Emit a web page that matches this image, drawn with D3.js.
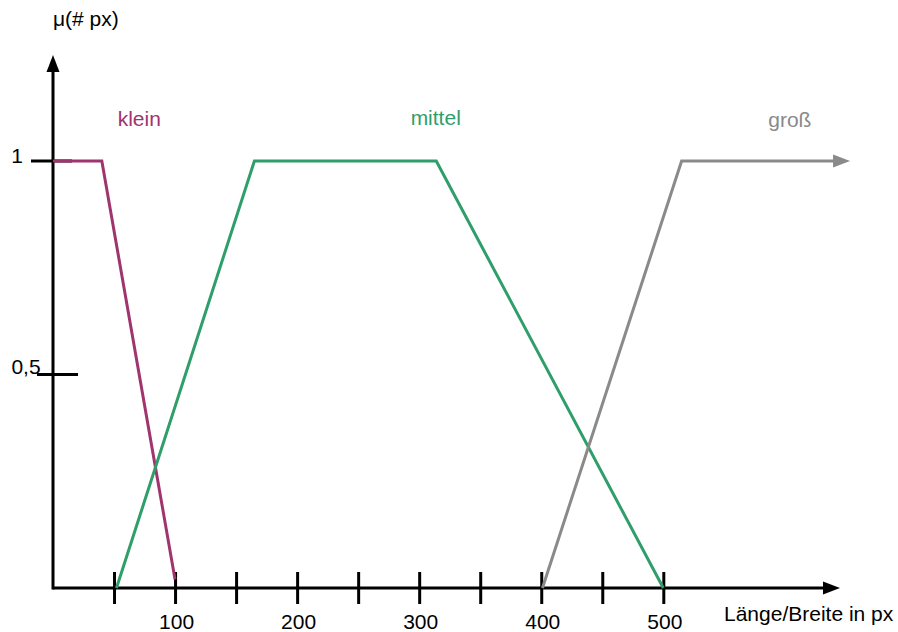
<!DOCTYPE html>
<html>
<head>
<meta charset="utf-8">
<script src="https://cdn.jsdelivr.net/npm/d3@7"></script>
<style>
  html, body { margin: 0; padding: 0; background: #fff; }
  svg { display: block; }
  text { font-family: "Liberation Sans", Arial, sans-serif; font-size: 21px; }
</style>
</head>
<body>
<svg id="chart" width="898" height="632"></svg>
<script>
// ---- data ----
const xTickValues = [50, 100, 150, 200, 250, 300, 350, 400, 450, 500];
const xTickLabels = [100, 200, 300, 400, 500];
const yTickValues = [1, 0.5];
const yTickLabels = ["1", "0,5"];

const kleinX = [0, 40, 100];
const kleinMu = [1, 1, 0.02];
const mittelX = [52, 165, 314, 500];
const mittelMu = [0, 1, 1, 0];
const grossX = [401, 515, 653];
const grossMu = [0, 1, 1];

const seriesNames = ["klein", "mittel", "groß"];
const seriesColors = ["#a0346e", "#2f9e6a", "#8a8a8a"];
const labelAnchorX = [53, 293, 586];   // label x (data units)
const labelAnchorMu = [1.082, 1.084, 1.08];

const xAxisLabel = "Länge/Breite in px";
const yAxisLabel = "μ(# px)";

// ---- scales ----
const svg = d3.select("#chart");
const x = d3.scaleLinear().domain([0, 500]).range([53, 663.3]);
const y = d3.scaleLinear().domain([0, 1]).range([588, 161]);

const black = "#000";

// axes lines
const xEnd = 840, yEnd = 55;
svg.append("line").attr("x1", x(0)).attr("y1", y(0)).attr("x2", xEnd - 10).attr("y2", y(0))
  .attr("stroke", black).attr("stroke-width", 3);
svg.append("path").attr("d", `M${xEnd},${y(0)} L${xEnd - 17},${y(0) - 6.5} L${xEnd - 17},${y(0) + 6.5} Z`)
  .attr("fill", black);
svg.append("line").attr("x1", x(0)).attr("y1", y(0) + 1.5).attr("x2", x(0)).attr("y2", yEnd + 10)
  .attr("stroke", black).attr("stroke-width", 3);
svg.append("path").attr("d", `M${x(0)},${yEnd} L${x(0) - 6.5},${yEnd + 17} L${x(0) + 6.5},${yEnd + 17} Z`)
  .attr("fill", black);

// x ticks via d3 axis
const xAxis = d3.axisBottom(x).tickValues(xTickValues).tickSizeInner(16).tickSizeOuter(0)
  .tickFormat(d => xTickLabels.includes(d) ? d : "");
const gx = svg.append("g").attr("transform", `translate(0,${y(0)})`).call(xAxis);
gx.select(".domain").remove();
gx.selectAll(".tick line").attr("stroke", black).attr("stroke-width", 3).attr("y1", -16).attr("y2", 16);
gx.selectAll(".tick text").attr("fill", black).attr("y", 0).attr("dy", null)
  .attr("transform", "translate(1,41)")
  .style("font-size", "21px").style("font-family", "Liberation Sans, Arial, sans-serif");

// y ticks
const yTickLeft = [31, 37], yTickRight = [72, 78];
yTickValues.forEach((v, i) => {
  svg.append("line").attr("x1", yTickLeft[i]).attr("x2", yTickRight[i])
    .attr("y1", y(v)).attr("y2", y(v)).attr("stroke", black).attr("stroke-width", 3);
});
svg.append("text").attr("x", 17).attr("y", y(1) + 2).attr("text-anchor", "middle").text(yTickLabels[0]);
svg.append("text").attr("x", 26).attr("y", y(0.5) - 1).attr("text-anchor", "middle").text(yTickLabels[1]);

// axis labels
svg.append("text").attr("x", 53).attr("y", 26).text(yAxisLabel);
svg.append("text").attr("x", 724).attr("y", 621).text(xAxisLabel);

// series
const line = d3.line().x(d => x(d[0])).y(d => y(d[1]));
const series = [
  d3.zip(kleinX, kleinMu),
  d3.zip(mittelX, mittelMu),
  d3.zip(grossX, grossMu)
];
series.forEach((pts, i) => {
  let drawPts = pts;
  if (i === 2) {
    const last = pts[pts.length - 1];
    drawPts = pts.slice(0, -1).concat([[last[0] - 12 / 1.2208, last[1]]]);
  }
  svg.append("path").datum(drawPts).attr("d", line)
    .attr("fill", "none").attr("stroke", seriesColors[i]).attr("stroke-width", 3)
    .attr("stroke-linejoin", "miter");
});
// arrow head on groß
{
  const last = series[2][series[2].length - 1];
  const tx = x(last[0]), ty = y(last[1]);
  svg.append("path").attr("d", `M${tx},${ty} L${tx - 17},${ty - 6.5} L${tx - 17},${ty + 6.5} Z`)
    .attr("fill", seriesColors[2]);
}

// series labels
seriesNames.forEach((n, i) => {
  svg.append("text").attr("x", x(labelAnchorX[i])).attr("y", y(labelAnchorMu[i]))
    .attr("fill", seriesColors[i]).text(n);
});
</script>
</body>
</html>
